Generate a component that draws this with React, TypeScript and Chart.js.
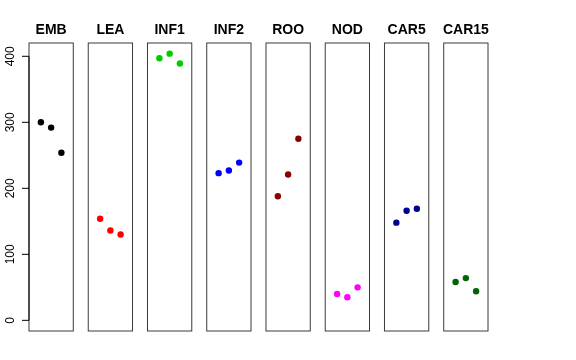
import React, { useEffect, useRef } from "react";
import { Chart, registerables } from "chart.js";

Chart.register(...registerables);

// ---- data ----
const categories = ["EMB", "LEA", "INF1", "INF2", "ROO", "NOD", "CAR5", "CAR15"];
const positions = [1, 2, 3];
const embValues = [300, 292, 254];
const leaValues = [154, 136, 130];
const inf1Values = [397, 404, 389];
const inf2Values = [223, 227, 239];
const rooValues = [188, 221, 275];
const nodValues = [40, 35, 50];
const car5Values = [148, 166, 169];
const car15Values = [58, 64, 44];
const yTicks = [0, 100, 200, 300, 400];

const seriesValues = [embValues, leaValues, inf1Values, inf2Values, rooValues, nodValues, car5Values, car15Values];
const colors = ["#000000", "#FF0000", "#00CD00", "#0000FF", "#8B0000", "#FF00FF", "#00008B", "#006400"];

// ---- panel geometry in data units ----
const X_LO = -0.16;
const X_HI = 4.16;
const STEP = 5.78;
const Y_MIN = -16.16;
const Y_MAX = 420.16;

const panelPlugin = {
  id: "panels",
  beforeDatasetsDraw(chart: any) {
    const ctx = chart.ctx;
    const xs = chart.scales.x;
    const ys = chart.scales.y;
    const top = ys.getPixelForValue(Y_MAX);
    const bottom = ys.getPixelForValue(Y_MIN);
    ctx.save();
    categories.forEach((name, i) => {
      const l = xs.getPixelForValue(i * STEP + X_LO);
      const r = xs.getPixelForValue(i * STEP + X_HI);
      ctx.strokeStyle = "#3a3a3a";
      ctx.lineWidth = 1;
      ctx.strokeRect(l, top, r - l, bottom - top);
      ctx.fillStyle = "#000";
      ctx.font = "bold 14px 'Liberation Sans', Arial, sans-serif";
      ctx.textAlign = "center";
      ctx.textBaseline = "alphabetic";
      ctx.fillText(name, (l + r) / 2, 34);
    });
    // y axis
    const ax = xs.getPixelForValue(X_LO);
    ctx.strokeStyle = "#000";
    ctx.lineWidth = 1;
    ctx.beginPath();
    ctx.moveTo(ax, ys.getPixelForValue(yTicks[0]));
    ctx.lineTo(ax, ys.getPixelForValue(yTicks[yTicks.length - 1]));
    yTicks.forEach((t) => {
      const y = ys.getPixelForValue(t);
      ctx.moveTo(ax - 7, y);
      ctx.lineTo(ax, y);
    });
    ctx.stroke();
    ctx.fillStyle = "#000";
    ctx.font = "12px 'Liberation Sans', Arial, sans-serif";
    ctx.textAlign = "center";
    ctx.textBaseline = "alphabetic";
    yTicks.forEach((t) => {
      const y = ys.getPixelForValue(t);
      ctx.save();
      ctx.translate(ax - 15.5, y);
      ctx.rotate(-Math.PI / 2);
      ctx.fillText(String(t), 0, 0);
      ctx.restore();
    });
    ctx.restore();
  },
};

export default function App() {
  const ref = useRef<HTMLCanvasElement>(null);
  useEffect(() => {
    if (!ref.current) return;
    const datasets = categories.map((name, i) => ({
      label: name,
      data: seriesValues[i].map((v, j) => ({ x: i * STEP + positions[j], y: v })),
      backgroundColor: colors[i],
      borderColor: colors[i],
      pointRadius: 3.2,
      pointBorderWidth: 0,
      showLine: false,
    }));
    const chart = new Chart(ref.current, {
      type: "scatter",
      data: { datasets },
      options: {
        animation: false,
        responsive: false,
        events: [],
        layout: { padding: { left: 29, right: 88, top: 43, bottom: 29 } },
        plugins: { legend: { display: false }, tooltip: { enabled: false } },
        scales: {
          x: { type: "linear", display: false, min: X_LO, max: (categories.length - 1) * STEP + X_HI },
          y: { type: "linear", display: false, min: Y_MIN, max: Y_MAX },
        },
      },
      plugins: [panelPlugin],
    });
    return () => chart.destroy();
  }, []);
  return (
    <div style={{ position: "fixed", left: 0, top: 0, width: 576, height: 360, background: "#fff" }}>
      <canvas ref={ref} width={576} height={360} />
    </div>
  );
}
